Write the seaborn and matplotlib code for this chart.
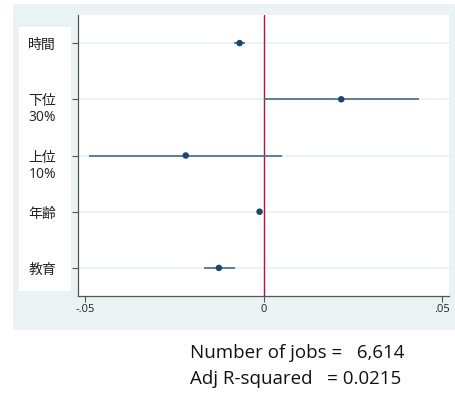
import matplotlib
matplotlib.use("Agg")
import matplotlib.pyplot as plt
import matplotlib.transforms as mtransforms
from matplotlib.patches import Rectangle
import seaborn as sns
import pandas as pd

# Coefficient estimates with 95% confidence intervals
labels = ["時間", "下位\n30%", "上位\n10%", "年齢", "教育"]
coef = [-0.0067, 0.0218, -0.0218, -0.0011, -0.0125]
ci_low = [-0.0083, 0.0002, -0.0488, -0.0015, -0.0167]
ci_high = [-0.0052, 0.0435, 0.0052, -0.0007, -0.0080]
xticks = [-0.05, 0, 0.05]
xtick_labels = ["-.05", "0", ".05"]
stats_lines = ["Number of jobs =   6,614", "Adj R-squared   = 0.0215"]

df = pd.DataFrame({"var": labels, "coef": coef, "lo": ci_low, "hi": ci_high})
df["pos"] = range(len(df))

sns.set_style("white")
plt.rcParams["font.family"] = ["Open Sans", "Noto Sans CJK JP", "DejaVu Sans"]

W, H = 455, 394
fig = plt.figure(figsize=(W / 100, H / 100), dpi=100)
fig.patch.set_facecolor("white")

bg = "#eaf2f3"
# outer graph region and the white label panel, kept behind the axes
fig.patches.append(Rectangle((13 / W, 1 - 330 / H), (W - 13) / W, (330 - 4) / H,
                             transform=fig.transFigure, facecolor=bg, edgecolor="none", zorder=-2))
fig.patches.append(Rectangle((19 / W, 1 - 291 / H), (71 - 19) / W, (291 - 27) / H,
                             transform=fig.transFigure, facecolor="white", edgecolor="none", zorder=-1))

ax = fig.add_axes([78 / W, 1 - 296 / H, (449 - 78) / W, (296 - 15) / H])
ax.set_facecolor("white")

for p in df["pos"]:
    ax.axhline(p, color=bg, lw=1.3, zorder=0)
ax.axvline(0, color="#b5123b", lw=1.0, zorder=1)

ax.hlines(df["pos"], df["lo"], df["hi"], color="#4f7396", lw=1.3, zorder=2)
sns.scatterplot(data=df, x="coef", y="pos", color="#1a476f", s=22, edgecolor="none",
                zorder=3, ax=ax, legend=False)

ax.set_xlim(-0.052, 0.052)
ax.set_ylim(len(df) - 0.5, -0.5)
ax.set_xticks(xticks)
ax.set_xticklabels(xtick_labels, fontsize=8, color="#222222")
ax.set_yticks(df["pos"])
ax.set_yticklabels(df["var"], fontsize=10, color="#222222", ha="left", va="top",
                   linespacing=1.1)
ax.tick_params(axis="y", length=4, width=0.8, color="#555555", pad=31.7, left=True)
ax.tick_params(axis="x", length=4, width=0.8, color="#555555", pad=2, bottom=True)
offset = mtransforms.ScaledTranslation(0, 5 / 100, fig.dpi_scale_trans)
for t in ax.get_yticklabels():
    t.set_transform(t.get_transform() + offset)

ax.set_xlabel("")
ax.set_ylabel("")
for side in ["top", "right"]:
    ax.spines[side].set_visible(False)
for side in ["left", "bottom"]:
    ax.spines[side].set_color("#555555")
    ax.spines[side].set_linewidth(0.9)

for i, line in enumerate(stats_lines):
    fig.text(190 / W, 1 - (358 + 26 * i) / H, line, fontsize=13.5, color="#111111",
             ha="left", va="baseline")

fig.savefig("out.png", dpi=100, facecolor="white")
